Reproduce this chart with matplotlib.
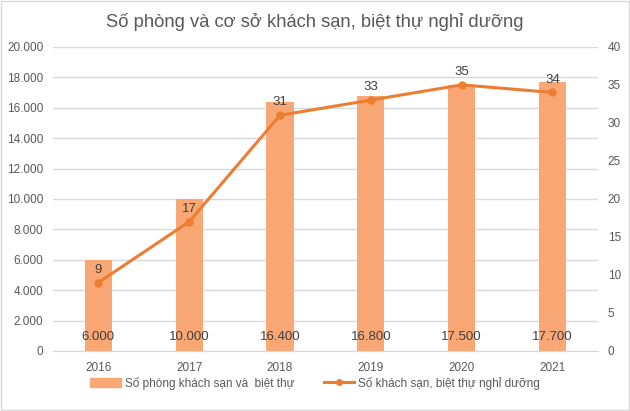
import matplotlib
matplotlib.use("Agg")
import matplotlib.pyplot as plt
from matplotlib.patches import Rectangle

plt.rcParams['font.family'] = ['Liberation Sans', 'DejaVu Sans']

years = ['2016', '2017', '2018', '2019', '2020', '2021']
rooms = [6000, 10000, 16400, 16800, 17500, 17700]
hotels = [9, 17, 31, 33, 35, 34]
room_labels = ['6.000', '10.000', '16.400', '16.800', '17.500', '17.700']
left_ticks = [0, 2000, 4000, 6000, 8000, 10000, 12000, 14000, 16000, 18000, 20000]
left_tick_labels = ['0', '2.000', '4.000', '6.000', '8.000', '10.000', '12.000', '14.000', '16.000', '18.000', '20.000']
right_ticks = [0, 5, 10, 15, 20, 25, 30, 35, 40]

bar_color = '#F9A875'
line_color = '#ED7D31'
text_color = '#595959'

fig = plt.figure(figsize=(6.3, 4.11), dpi=100)
fig.patches.append(Rectangle((0.002, 0.002), 0.996, 0.996, transform=fig.transFigure,
                             fill=False, edgecolor='#D9D9D9', linewidth=1))
ax = fig.add_axes([0.084, 0.146, 0.865, 0.740])
x = list(range(len(years)))
ax.bar(x, rooms, width=0.3, color=bar_color, zorder=2)
ax.set_ylim(0, 20000)
ax.set_xlim(-0.5, len(years) - 0.5)
ax.set_yticks(left_ticks)
ax.set_yticklabels(left_tick_labels)
ax.set_xticks(x)
ax.set_xticklabels(years)
ax.grid(axis='y', color='#D9D9D9', linewidth=1, zorder=0)
ax.set_axisbelow(True)
for s in ['top', 'left', 'right']:
    ax.spines[s].set_visible(False)
ax.spines['bottom'].set_color('#D9D9D9')
ax.tick_params(length=0, colors=text_color, labelsize=8.5)
ax.tick_params(axis='y', pad=7)
ax.tick_params(axis='x', pad=8)
for xi, lab in zip(x, room_labels):
    ax.text(xi, 500, lab, ha='center', va='bottom', fontsize=9.5, color='#404040', zorder=5)

ax2 = ax.twinx()
ax2.plot(x, hotels, color=line_color, linewidth=2.2, marker='o', markersize=5, zorder=4)
ax2.set_ylim(0, 40)
ax2.set_yticks(right_ticks)
for s in ['top', 'left', 'right', 'bottom']:
    ax2.spines[s].set_visible(False)
ax2.tick_params(length=0, colors=text_color, labelsize=8.5, pad=7)
for xi, v in zip(x, hotels):
    ax2.text(xi, v + 0.9, str(v), ha='center', va='bottom', fontsize=9.5, color='#404040')

fig.text(0.5, 0.946, 'Số phòng và cơ sở khách sạn, biệt thự nghỉ dưỡng', ha='center', va='center',
         fontsize=13.2, color=text_color)

h1 = Rectangle((0, 0), 1, 1, color=bar_color)
h2, = ax2.plot([], [], color=line_color, linewidth=2.2, marker='o', markersize=4)
fig.legend([h1, h2], ['Số phòng khách sạn và  biệt thự', 'Số khách sạn, biệt thự nghỉ dưỡng'],
           loc='center', bbox_to_anchor=(0.5, 0.068), ncol=2, frameon=False,
           fontsize=8.5, labelcolor=text_color, handlelength=2.6, columnspacing=2.5, handletextpad=0.3)

fig.savefig('out.png', dpi=100)
